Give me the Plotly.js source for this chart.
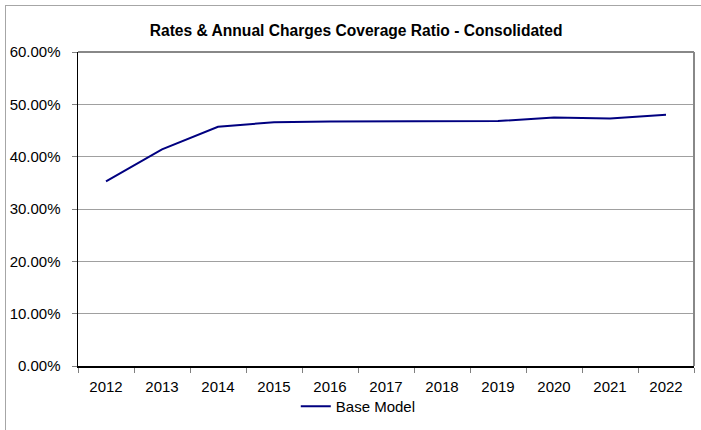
<!DOCTYPE html>
<html>
<head>
<meta charset="utf-8">
<script src="https://cdn.plot.ly/plotly-3.0.1.min.js"></script>
<style>
html,body{margin:0;padding:0;overflow:hidden;background:#fff;}
#frame{position:absolute;left:5px;top:5px;width:900px;height:700px;border:1px solid #a6a6a6;box-sizing:border-box;}
#chart{position:absolute;left:0;top:0;width:701px;height:430px;}
</style>
</head>
<body>
<div id="frame"></div>
<div id="chart"></div>
<script>
var years = ['2012','2013','2014','2015','2016','2017','2018','2019','2020','2021','2022'];
var baseModel = [0.353, 0.414, 0.457, 0.466, 0.467, 0.467, 0.468, 0.468, 0.475, 0.473, 0.480];
var yTicks = [0, 0.1, 0.2, 0.3, 0.4, 0.5, 0.6];
var yTickText = ['0.00%','10.00%','20.00%','30.00%','40.00%','50.00%','60.00%'];

var font = 'Arial, "Liberation Sans", sans-serif';

Plotly.newPlot('chart', [{
  x: years, y: baseModel, type: 'scatter', mode: 'lines', name: 'Base Model',
  line: {color: '#000080', width: 2}
}], {
  width: 701, height: 430,
  paper_bgcolor: 'rgba(0,0,0,0)', plot_bgcolor: '#fff',
  margin: {l: 78, r: 7, t: 52, b: 64},
  font: {family: font, size: 15, color: '#000'},
  title: {text: '<b>Rates & Annual Charges Coverage Ratio - Consolidated</b>', font: {family: font, size: 15.6, color: '#000'}, x: 0.508, xanchor: 'center', y: 0.93, yanchor: 'middle'},
  showlegend: true,
  legend: {orientation: 'h', x: 0.455, xanchor: 'center', yref: 'container', y: 0.093, yanchor: 'top', font: {size: 15}, bgcolor: 'rgba(0,0,0,0)'},
  xaxis: {type: 'category', range: [-0.5, 10.5], showgrid: false, showline: true, linecolor: '#000', linewidth: 1.5, automargin: false,
    ticks: 'outside', tickson: 'boundaries', ticklen: 5, tickcolor: '#808080', ticklabelstandoff: 6, tickfont: {size: 15}, fixedrange: true},
  yaxis: {range: [0, 0.6], tickvals: yTicks, ticktext: yTickText, showgrid: true, gridcolor: '#a0a0a0', gridwidth: 1, automargin: false,
    showline: true, linecolor: '#000', linewidth: 1.5, ticks: 'outside', ticklen: 5, tickcolor: '#808080',
    ticklabelstandoff: 8, tickfont: {size: 15}, zeroline: false, fixedrange: true},
  shapes: [
    {type: 'line', xref: 'paper', yref: 'paper', x0: 0, x1: 1, y0: 1, y1: 1, line: {color: '#888', width: 2}, layer: 'above'},
    {type: 'line', xref: 'paper', yref: 'paper', x0: 1, x1: 1, y0: 0, y1: 1, line: {color: '#888', width: 2}, layer: 'above'}
  ]
}, {displayModeBar: false, staticPlot: true});
</script>
</body>
</html>
